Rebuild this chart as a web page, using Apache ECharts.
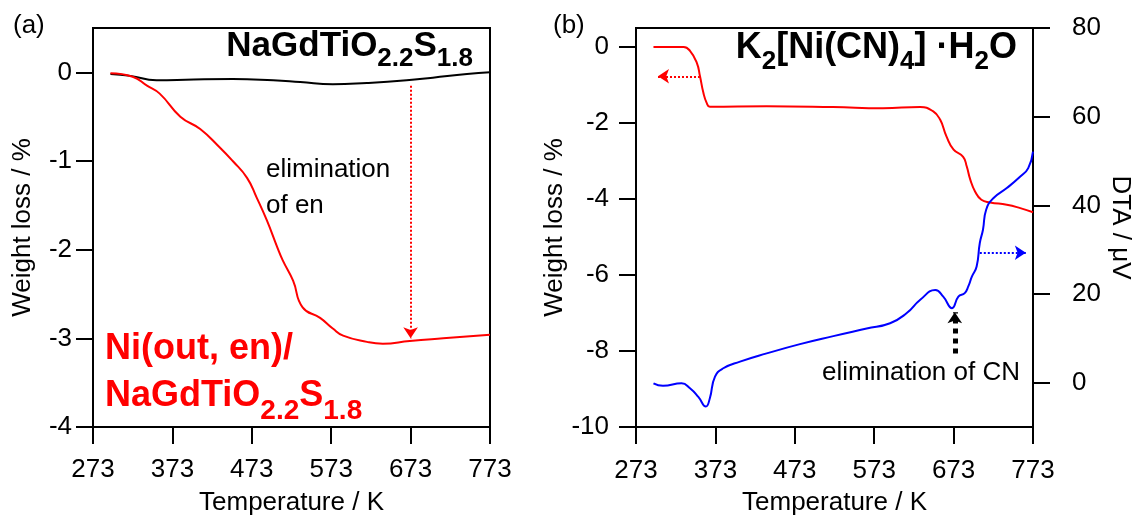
<!DOCTYPE html>
<html>
<head>
<meta charset="utf-8">
<script src="https://cdn.jsdelivr.net/npm/echarts@6/dist/echarts.min.js"></script>
<style>
html,body{margin:0;padding:0;background:#fff;}
#c{width:1140px;height:519px;}
</style>
</head>
<body>
<div id="c"></div>
<script>
// ---------- data ----------
// x tick labels (Temperature / K)
var tempTicks = [273, 373, 473, 573, 673, 773];
var lossTicksA = [-4, -3, -2, -1, 0];
var lossTicksB = [-10, -8, -6, -4, -2, 0];
var dtaTicks = [0, 20, 40, 60, 80];

// (a) bare NaGdTiO2.2S1.8 (black)
var aBareT    = [295, 320, 353, 400, 449, 500, 534, 575, 618, 668, 701, 744, 773];
var aBareLoss = [-0.02, -0.04, -0.09, -0.08, -0.075, -0.09, -0.11, -0.135, -0.12, -0.09, -0.06, -0.02, 0.0];

// (a) Ni(out, en)/NaGdTiO2.2S1.8 (red)
var aNiT    = [295, 323, 341, 357, 383, 408, 433, 449, 467, 479, 492, 505, 512, 525, 537, 559, 575, 588, 618, 638, 672, 714, 773];
var aNiLoss = [-0.01, -0.05, -0.15, -0.24, -0.50, -0.64, -0.85, -1.00, -1.19, -1.41, -1.67, -1.97, -2.12, -2.35, -2.65, -2.77, -2.89, -2.97, -3.04, -3.06, -3.03, -3.00, -2.96];

// (b) K2[Ni(CN)4]·H2O weight loss (red, left axis)
var bTgT    = [295, 333, 341, 349.5, 353.6, 357.8, 362, 366, 437.6, 521, 584, 631, 647, 656, 664, 673, 685, 689.5, 694, 700, 708, 719, 740, 757, 773];
var bTgLoss = [0.0, 0.0, -0.10, -0.41, -0.77, -1.20, -1.47, -1.57, -1.56, -1.58, -1.61, -1.58, -1.69, -1.91, -2.35, -2.70, -2.89, -3.14, -3.49, -3.80, -4.02, -4.09, -4.15, -4.24, -4.35];

// (b) DTA (blue, right axis)
var bDtaT  = [295, 307, 330.5, 341, 351.5, 361, 366, 372.5, 383, 404, 437.6, 479.5, 521.5, 563.5, 593, 614, 631, 650, 660, 671, 679, 687, 691.5, 696, 702, 706, 710, 714, 723, 740, 757, 767, 773];
var bDtaUv = [-0.15, -0.7, -0.15, -1.27, -3.2, -5.4, -3.5, 1.35, 3.25, 4.75, 6.6, 8.7, 10.5, 12.2, 13.4, 15.7, 18.7, 20.9, 19.4, 16.8, 19.4, 20.2, 21.7, 23.9, 26.2, 31.5, 34.5, 39.0, 41.6, 43.9, 46.5, 48.4, 52.1];

// annotation arrows (data coordinates)
var arrowA   = [[673, -0.15], [673, -3.0]];     // elimination of en
var arrowBtg = [[353.6, -0.77], [300.7, -0.77]]; // points to left axis
var arrowBdta = [[706, 29.3], [764, 29.3]];      // points to right axis
var arrowCN  = [[674.5, 6.6], [674.5, 15.9]];    // elimination of CN

function pairs(xs, ys) { return xs.map(function (x, i) { return [x, ys[i]]; }); }

var FONT = 'Liberation Sans';
var chart = echarts.init(document.getElementById('c'), null, {renderer: 'canvas'});

function xAxisCfg(gi, margin) {
  return {
    type: 'value', gridIndex: gi, min: 273, max: 773,
    name: 'Temperature / K', nameLocation: 'middle', nameGap: 63,
    nameTextStyle: {fontSize: 26, color: '#000', fontFamily: FONT},
    axisLine: {show: true, onZero: false, lineStyle: {color: '#000', width: 2}},
    axisTick: {show: true, inside: false, length: 17, lineStyle: {color: '#000', width: 2}, customValues: tempTicks},
    axisLabel: {fontSize: 26, color: '#000', margin: margin, fontFamily: FONT, customValues: tempTicks, showMinLabel: true, showMaxLabel: true},
    splitLine: {show: false}
  };
}
function yAxisCfg(gi, min, max, ticks, pos, name, nameGap, margin, rot) {
  return {
    type: 'value', gridIndex: gi, min: min, max: max, position: pos,
    name: name, nameLocation: 'middle', nameGap: nameGap, nameRotate: rot,
    nameTextStyle: {fontSize: 26, color: '#000', fontFamily: FONT},
    axisLine: {show: true, onZero: false, lineStyle: {color: '#000', width: 2}},
    axisTick: {show: true, inside: false, length: 17, lineStyle: {color: '#000', width: 2}, customValues: ticks},
    axisLabel: {fontSize: 26, color: '#000', margin: margin, fontFamily: FONT, customValues: ticks, showMinLabel: true, showMaxLabel: true},
    splitLine: {show: false}
  };
}
function arrowLine(pts, color, width) {
  return [{coord: pts[0], lineStyle: {color: color, width: width, type: 'dotted'}}, {coord: pts[1]}];
}
function richStyles(color, mainSize, subSize, mainLh, subPad) {
  return {
    n: {fontSize: mainSize, fontWeight: 'bold', fontFamily: FONT, lineHeight: mainLh, verticalAlign: 'top', fill: color},
    s: {fontSize: subSize, fontWeight: 'bold', fontFamily: FONT, lineHeight: subSize, verticalAlign: 'top', padding: [subPad, 0, 0, 0], fill: color}
  };
}

var option = {
  animation: false,
  backgroundColor: '#fff',
  textStyle: {fontFamily: FONT},
  grid: [
    {left: 93, top: 28, width: 397, height: 399, show: true, borderColor: '#000', borderWidth: 2, backgroundColor: 'transparent', containLabel: false, outerBoundsMode: 'none'},
    {left: 636, top: 28, width: 397, height: 399, show: true, borderColor: '#000', borderWidth: 2, backgroundColor: 'transparent', containLabel: false, outerBoundsMode: 'none'}
  ],
  xAxis: [xAxisCfg(0, 30), xAxisCfg(1, 31)],
  yAxis: [
    yAxisCfg(0, -4, 0.5, lossTicksA, 'left', 'Weight loss / %', 57, 21, 90),
    yAxisCfg(1, -10, 0.5, lossTicksB, 'left', 'Weight loss / %', 53, 27, 90),
    yAxisCfg(1, -10, 80, dtaTicks, 'right', 'DTA / μV', 74, 39, -90)
  ],
  series: [
    {
      name: 'NaGdTiO2.2S1.8', type: 'line', xAxisIndex: 0, yAxisIndex: 0,
      data: pairs(aBareT, aBareLoss), showSymbol: false, smooth: 0.5,
      lineStyle: {color: '#000', width: 2}, itemStyle: {color: '#000'}
    },
    {
      name: 'Ni(out, en)/NaGdTiO2.2S1.8', type: 'line', xAxisIndex: 0, yAxisIndex: 0,
      data: pairs(aNiT, aNiLoss), showSymbol: false, smooth: 0.5,
      lineStyle: {color: '#ff0000', width: 2}, itemStyle: {color: '#ff0000'},
      markLine: {silent: true, symbol: ['none', 'arrow'], symbolSize: 11, label: {show: false},
        data: [arrowLine(arrowA, '#ff0000', 2)]}
    },
    {
      name: 'K2[Ni(CN)4]·H2O TG', type: 'line', xAxisIndex: 1, yAxisIndex: 1,
      data: pairs(bTgT, bTgLoss), showSymbol: false, smooth: 0.5,
      lineStyle: {color: '#ff0000', width: 2}, itemStyle: {color: '#ff0000'},
      markLine: {silent: true, symbol: ['none', 'arrow'], symbolSize: 11, label: {show: false},
        data: [arrowLine(arrowBtg, '#ff0000', 2)]}
    },
    {
      name: 'K2[Ni(CN)4]·H2O DTA', type: 'line', xAxisIndex: 1, yAxisIndex: 2,
      data: pairs(bDtaT, bDtaUv), showSymbol: false, smooth: 0.5,
      lineStyle: {color: '#0000ff', width: 2}, itemStyle: {color: '#0000ff'},
      markLine: {silent: true, symbol: ['none', 'arrow'], symbolSize: 11, label: {show: false},
        data: [arrowLine(arrowBdta, '#0000ff', 2), arrowLine(arrowCN, '#000', 5)]}
    }
  ],
  graphic: [
    {type: 'text', left: 13, top: 13, style: {text: '(a)', fontSize: 26, fontFamily: FONT, fill: '#000'}},
    {type: 'text', left: 553, top: 13, style: {text: '(b)', fontSize: 26, fontFamily: FONT, fill: '#000'}},
    {type: 'text', x: 473, y: 29, style: {
      text: '{n|NaGdTiO}{s|2.2}{n|S}{s|1.8}', align: 'right', verticalAlign: 'top', fill: '#000',
      rich: richStyles('#000', 35, 26, 40, 17)}},
    {type: 'text', x: 1017, y: 30, style: {
      text: '{n|K}{s|2}{n|[Ni(CN)}{s|4}{n|] ·H}{s|2}{n|O}', align: 'right', verticalAlign: 'top', fill: '#000',
      rich: richStyles('#000', 36, 26, 44, 19)}},
    {type: 'text', x: 105, y: 331, style: {
      text: '{n|Ni(out, en)/}\n{n|NaGdTiO}{s|2.2}{n|S}{s|1.8}', align: 'left', verticalAlign: 'top', fill: '#ff0000',
      rich: richStyles('#ff0000', 36, 28, 47, 19)}},
    {type: 'text', x: 266, y: 152, style: {text: 'elimination\nof en', fontSize: 26, lineHeight: 36, fontFamily: FONT, fill: '#000', align: 'left', verticalAlign: 'top'}},
    {type: 'text', x: 1020, y: 373, style: {text: 'elimination of CN', fontSize: 26, fontFamily: FONT, fill: '#000', align: 'right', verticalAlign: 'middle'}}
  ]
};
chart.setOption(option);
</script>
</body>
</html>
